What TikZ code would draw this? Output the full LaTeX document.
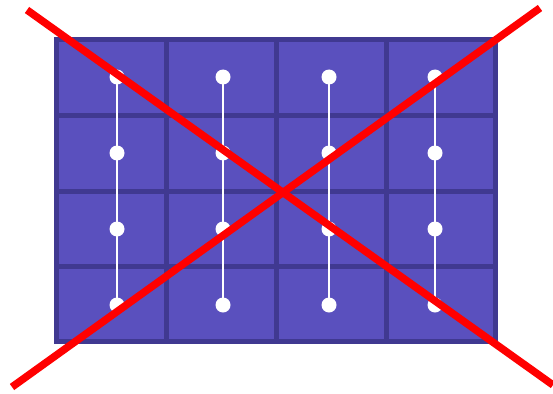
\documentclass[tikz,border=0pt]{standalone}
\definecolor{cellfill}{RGB}{90,80,190}
\definecolor{cellline}{RGB}{64,57,145}
\definecolor{xred}{RGB}{255,0,0}
\tikzset{
  gridline/.style={draw=cellline, line width=5pt},
  link/.style={draw=white, line width=2.5pt},
  dot/.style={circle, fill=white, inner sep=0pt, minimum size=15pt},
  cross/.style={draw=xred, line width=7.5pt}
}
\begin{document}
\begin{tikzpicture}[x=1pt,y=-1pt]
\useasboundingbox (0,0) rectangle (553,393);
\fill[cellfill] (56.5,39.5) rectangle (495.5,341.5);
\foreach \x in {166,276,386} \draw[gridline] (\x,39.5) -- (\x,341.5);
\foreach \y in {115.5,191,266.5} \draw[gridline] (56.5,\y) -- (495.5,\y);
\draw[gridline] (56.5,39.5) rectangle (495.5,341.5);
\foreach \x [count=\i] in {117,223,329,435} {
  \foreach \y [count=\j] in {77,153,229,305} {
    \node[dot] (d\i\j) at (\x,\y) {};
  }
  \draw[link] (d\i1.center) -- (d\i4.center);
}
\coordinate (a1) at (27,10);
\coordinate (a2) at (553,385);
\coordinate (b1) at (12,387);
\coordinate (b2) at (540,8);
\draw[cross] (a1) -- (a2);
\draw[cross] (b1) -- (b2);
\end{tikzpicture}
\end{document}
